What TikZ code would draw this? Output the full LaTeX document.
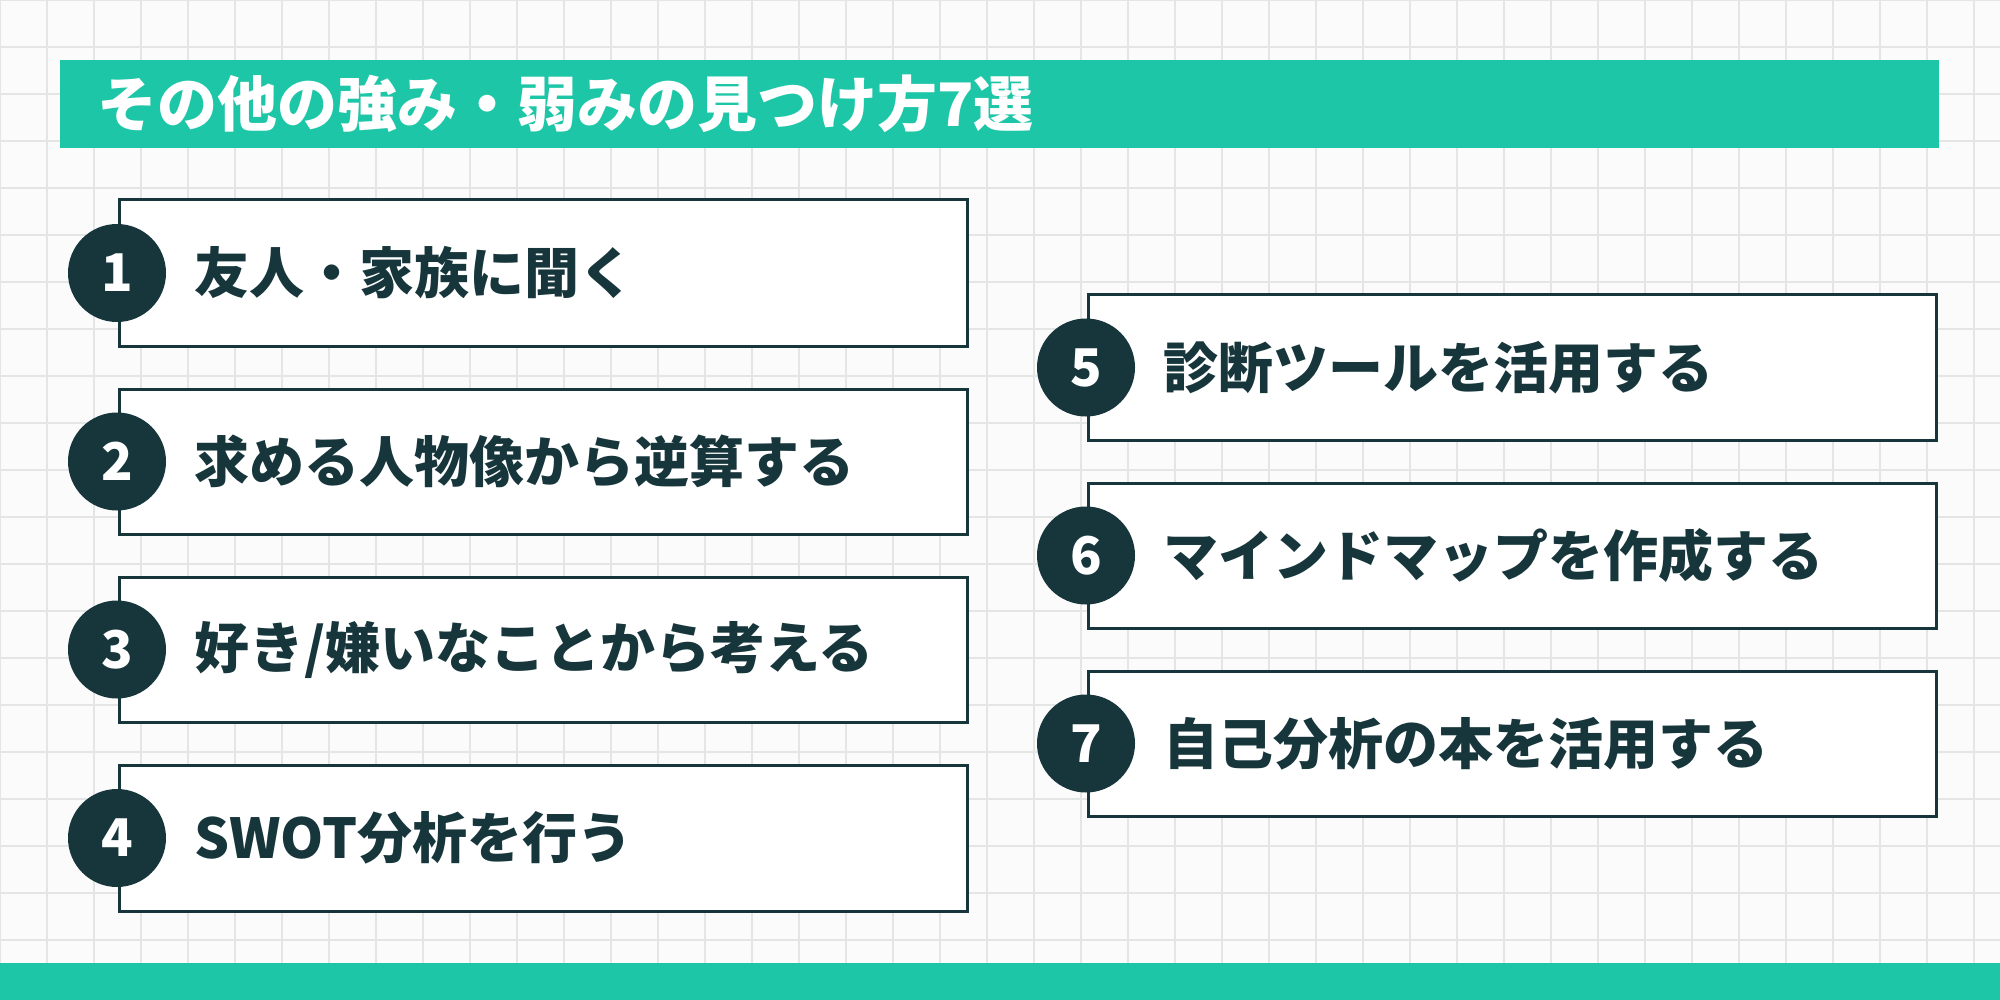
\documentclass[tikz,border=0pt]{standalone}
\usepackage{fontspec}
\setmainfont{Noto Sans CJK JP}[BoldFont={* Bold}]
\newfontfamily\cjkb{Noto Sans CJK JP Black}
\definecolor{teal}{HTML}{1EC6A8}
\definecolor{dk}{HTML}{17363B}
\definecolor{gridc}{HTML}{E4E6E6}
\begin{document}
\begin{tikzpicture}[x=1pt,y=-1pt,
 box/.style={draw=dk,line width=3pt,fill=white},
 num/.style={circle,fill=dk,minimum size=98pt,inner sep=0pt,text=white,font=\cjkb\fontsize{52}{52}\selectfont},
 lbl/.style={anchor=west,text=dk,font=\cjkb\fontsize{55}{55}\selectfont,inner sep=0pt}]
\useasboundingbox (0,0) rectangle (2000,1000);
\fill[white!97!gray] (0,0) rectangle (2000,1000);
\foreach \i in {0,...,43} {\draw[gridc,line width=1.5pt] (\i*47,0) -- (\i*47,1000);}
\foreach \j in {0,...,22} {\draw[gridc,line width=1.5pt] (0,\j*47) -- (2000,\j*47);}
\fill[teal] (60,60) rectangle (1939,148);
\node[anchor=west,text=white,font=\cjkb\fontsize{60}{60}\selectfont,inner sep=0pt] (title) at (97,104) {その他の強み・弱みの見つけ方7選};
\fill[teal] (0,963) rectangle (2000,1000);
\foreach \n/\x/\ya/\yb/\t in {1/119/200/346/{友人・家族に聞く},2/119/389/534/{求める人物像から逆算する},3/119/577/722/{好き/嫌いなことから考える},4/119/765/911/{SWOT分析を行う},5/1088/295/440/{診断ツールを活用する},6/1088/483/628/{マインドマップを作成する},7/1088/671/816/{自己分析の本を活用する}}{
 \draw[box] (\x,\ya) rectangle (\x+848,\yb);
 \node[num] (c\n) at (\x-2,{(\ya+\yb)/2}) {\n};
 \node[lbl] (t\n) at (\x+75,{(\ya+\yb)/2}) {\t};
}
\end{tikzpicture}
\end{document}
